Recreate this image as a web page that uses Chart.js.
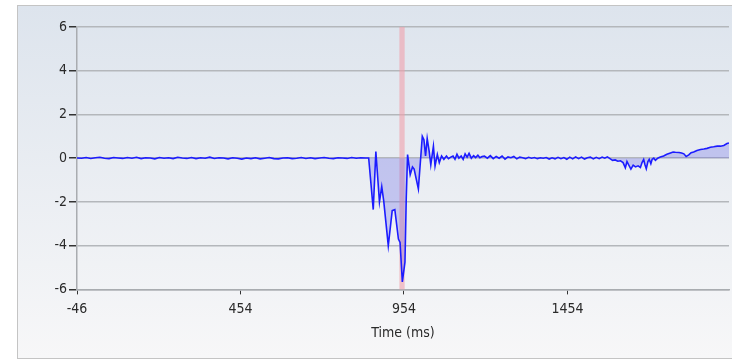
<!DOCTYPE html>
<html>
<head>
<meta charset="utf-8">
<script src="https://cdn.jsdelivr.net/npm/chart.js@4.4.1/dist/chart.umd.min.js"></script>
<style>
  html, body { margin: 0; padding: 0; background: #fff; overflow: hidden; }
  #panel {
    position: absolute; left: 17px; top: 5px; width: 730px; height: 352px;
    border: 1px solid #c4c4c4;
    background: linear-gradient(to bottom, #dde4ed, #f7f7f8);
  }
  #chart { position: absolute; left: 0; top: 0; }
</style>
</head>
<body>
<div id="panel"></div>
<canvas id="chart" width="732" height="359"></canvas>
<script>
// ── Data ──────────────────────────────────────
const baselineMs = [-46,-32,-18,-4,10,24,38,52,66,80,94,108,122,136,150,164,178,192,206,220,
  234,248,262,276,290,304,318,332,346,360,374,388,402,416,430,444,458,472,486,500,
  514,528,542,556,570,584,598,612,626,640,654,668,682,696,710,724,738,752,766,780,
  794,808,822,836];
const baselineVal = [0.01,0.00,0.03,-0.01,0.02,0.04,0.00,-0.02,0.03,0.01,
  -0.01,0.03,0.00,0.04,-0.02,0.02,0.01,-0.03,0.03,0.00,
  0.02,-0.02,0.04,0.01,-0.01,0.03,-0.02,0.02,0.00,0.05,
  -0.01,0.02,0.01,-0.03,0.02,0.00,-0.04,0.01,-0.02,0.02,
  -0.03,0.00,0.03,-0.02,-0.03,0.01,0.02,-0.02,0.00,0.03,
  -0.01,0.02,-0.02,0.01,0.03,0.00,-0.02,0.02,0.01,-0.01,
  0.03,0.00,0.02,0.01];

const responseMs = [846,860,868,879,886,892,906,918,926,937,942,949,957,961,965,973,980,985,998,1010,
  1015,1020,1025,1031,1036,1044,1049,1056,1062,1069,1076,1084,1090,1097,1104,1110,1116,1122,1129,1135,
  1141,1147,1153,1160,1167,1173,1180,1186,1193];
const responseVal = [0.01,-2.35,0.3,-2.0,-1.3,-1.95,-4.0,-2.4,-2.35,-3.7,-3.85,-5.66,-4.75,-1.8,0.17,-0.75,-0.4,-0.5,-1.4,1.0,
  0.84,0.1,0.9,0.32,-0.3,0.55,-0.36,0.17,-0.2,0.1,-0.05,0.1,-0.02,0.05,0.1,-0.05,0.18,0.0,0.1,-0.05,
  0.2,0.05,0.22,0.0,0.12,0.03,0.14,0.02,0.08];

const settleMs = [1200,1209,1218,1227,1236,1245,1254,1263,1272,1281,1290,1299,1308,1317,1326,1335,1344,1353,1362,1371,
  1380,1389,1398,1407,1416,1425,1434,1443,1452,1461,1470,1479,1488,1497,1506,1515,1524,1533,1542,1551];
const settleVal = [0.1,0.0,0.12,-0.02,0.08,0.0,0.1,-0.04,0.06,0.02,0.08,-0.03,0.05,0.02,-0.02,0.04,0.0,0.03,-0.02,0.02,
  0.0,0.03,-0.04,0.02,-0.03,0.04,-0.02,0.03,-0.05,0.05,-0.03,0.06,-0.02,0.05,-0.04,0.02,0.05,-0.03,0.04,-0.02];

const driftMs = [1560,1568,1576,1584,1592,1600,1608,1616,1624,1631,1636,1641,1648,1655,1662,1670,1677,1682,1687,1691,
  1695,1700,1704,1709,1713,1718,1723,1730,1738,1748,1758,1769,1777,1784,1795,1803,1810,1817,1825,1832,
  1840,1850,1861,1871,1881,1891,1901,1912,1922,1932,1942,1948];
const driftVal = [0.05,0.0,0.06,-0.02,-0.1,-0.08,-0.14,-0.12,-0.2,-0.44,-0.15,-0.3,-0.5,-0.32,-0.4,-0.35,-0.42,-0.2,-0.06,-0.3,
  -0.48,-0.15,-0.05,-0.25,-0.05,0.0,-0.1,0.0,0.05,0.1,0.18,0.24,0.28,0.27,0.26,0.24,0.2,0.08,0.15,0.25,
  0.28,0.35,0.4,0.42,0.45,0.5,0.52,0.55,0.55,0.58,0.67,0.7];

const xTicks = [-46, 454, 954, 1454];
const xRange = [-46, 1948];
const yRange = [-6, 6];
const markerMs = [940, 956];   // highlighted event window

const timeMs = [...baselineMs, ...responseMs, ...settleMs, ...driftMs];
const signal = [...baselineVal, ...responseVal, ...settleVal, ...driftVal];
const points = timeMs.map((t, i) => ({ x: t, y: signal[i] }));

// ── Marker band plugin ────────────────────────
const markerBand = {
  id: 'markerBand',
  beforeDatasetsDraw(chart) {
    const { ctx, chartArea, scales } = chart;
    const x0 = scales.x.getPixelForValue(markerMs[0]);
    const x1 = scales.x.getPixelForValue(markerMs[1]);
    ctx.save();
    ctx.fillStyle = 'rgba(240,160,172,0.6)';
    ctx.fillRect(x0, chartArea.top, x1 - x0, chartArea.bottom - chartArea.top);
    ctx.restore();
  }
};

const font = { family: "'Liberation Sans Narrow', 'DejaVu Sans Condensed', Arial, sans-serif", size: 14 };

new Chart(document.getElementById('chart'), {
  type: 'line',
  data: {
    datasets: [{
      data: points,
      borderColor: '#1c1cff',
      borderWidth: 1.6,
      pointRadius: 0,
      tension: 0,
      fill: { target: 'origin', above: 'rgba(90,90,230,0.28)', below: 'rgba(90,90,230,0.28)' }
    }]
  },
  options: {
    responsive: false,
    animation: false,
    parsing: false,
    layout: { padding: { top: 27, right: 3, bottom: 17, left: 0 } },
    plugins: { legend: { display: false }, tooltip: { enabled: false } },
    scales: {
      x: {
        type: 'linear',
        min: xRange[0], max: xRange[1],
        afterBuildTicks: s => { s.ticks = xTicks.map(v => ({ value: v })); },
        grid: { drawOnChartArea: false, drawTicks: true, tickLength: 5, tickColor: '#333' },
        border: { color: '#a9acb0', width: 1.5 },
        ticks: { color: '#2a2a2a', font, padding: 7, maxRotation: 0, autoSkip: false, callback: v => String(v) },
        title: { display: true, text: 'Time (ms)', color: '#2a2a2a', font, padding: { top: 0, bottom: 0 } }
      },
      y: {
        min: yRange[0], max: yRange[1],
        afterFit: s => { s.width = 77; },
        grid: { color: '#b4b7bb', lineWidth: 1.5, tickLength: 8, tickColor: '#333' },
        border: { color: '#a9acb0', width: 1.5 },
        ticks: { stepSize: 2, color: '#2a2a2a', font, padding: 2 }
      }
    }
  },
  plugins: [markerBand]
});
</script>
</body>
</html>
